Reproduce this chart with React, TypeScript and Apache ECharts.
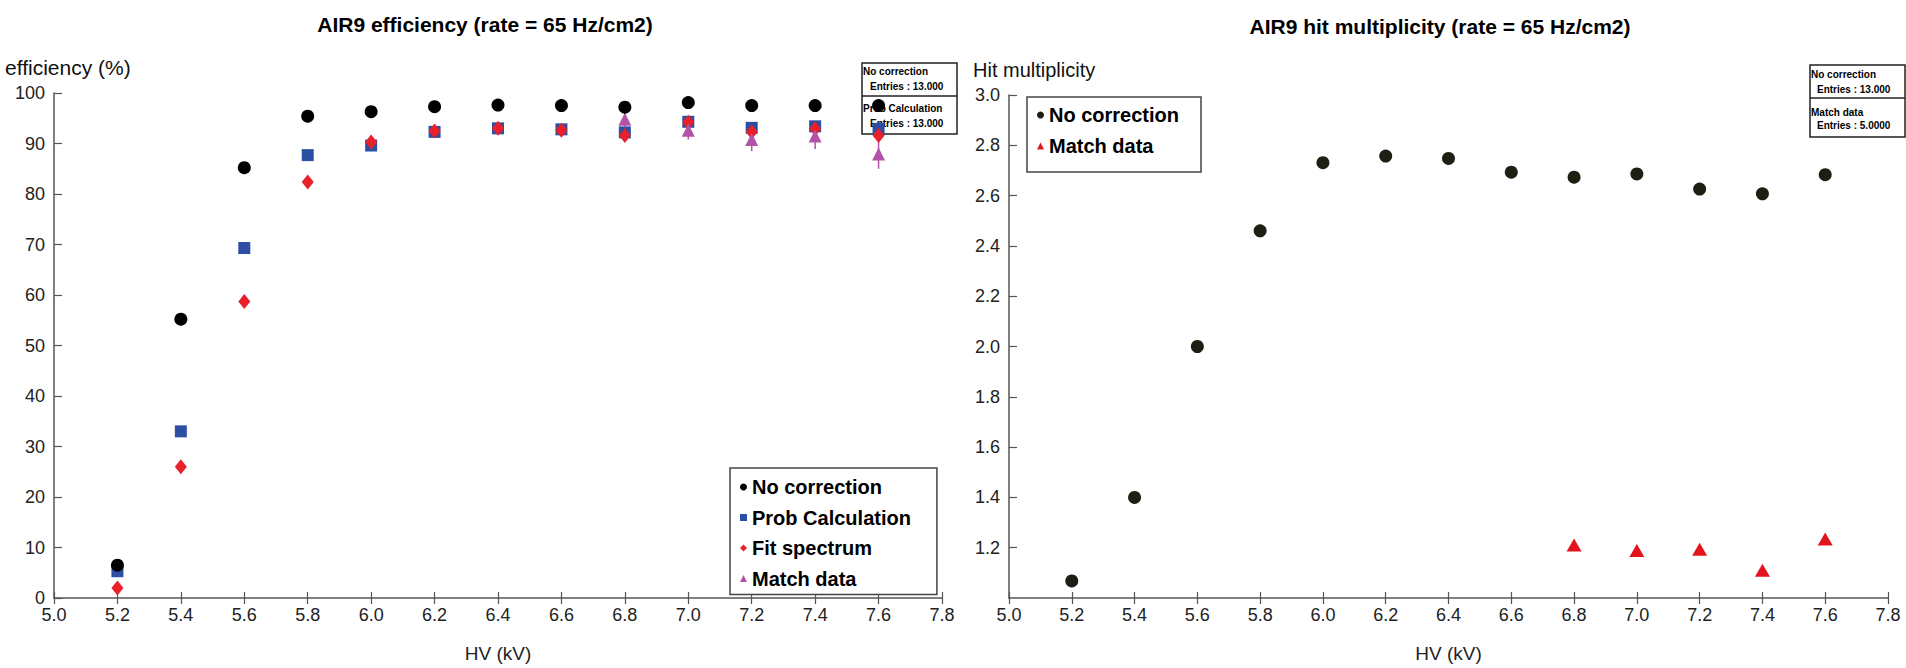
import React, { useEffect, useRef } from "react";
import * as echarts from "echarts";

const FONT = "'Liberation Sans', Arial, Helvetica, sans-serif";

// ---- Left chart data (efficiency %) ----
const hv = [5.2, 5.4, 5.6, 5.8, 6.0, 6.2, 6.4, 6.6, 6.8, 7.0, 7.2, 7.4, 7.6];
const effNoCorrection = [6.5, 55.2, 85.2, 95.4, 96.3, 97.3, 97.6, 97.5, 97.2, 98.1, 97.5, 97.5, 97.5];
const effProbCalc = [5.3, 33.0, 69.3, 87.7, 89.6, 92.3, 93.0, 92.8, 92.2, 94.3, 93.1, 93.4, 92.9];
const effFitSpectrum = [2.0, 26.0, 58.7, 82.4, 90.3, 92.5, 93.0, 92.6, 91.6, 94.2, 92.3, 92.9, 91.6];
const matchHv = [6.8, 7.0, 7.2, 7.4, 7.6];
const effMatchData = [94.8, 92.6, 90.8, 91.5, 87.9];
const effMatchErr = [1.5, 1.8, 2.3, 2.6, 2.9];

// ---- Right chart data (hit multiplicity) ----
const multNoCorrection = [1.068, 1.4, 2.0, 2.46, 2.731, 2.757, 2.748, 2.693, 2.673, 2.686, 2.626, 2.607, 2.683];
const multMatchData = [1.211, 1.189, 1.194, 1.11, 1.235];

// ---- Axis ranges / labels ----
const hvMin = 5.0;
const hvMax = 7.8;
const hvStep = 0.2;
const effMin = 0;
const effMax = 100;
const effStep = 10;
const multMin = 1.0;
const multMax = 3.0;
const multStep = 0.2;

const leftTitle = "AIR9 efficiency (rate = 65 Hz/cm2)";
const rightTitle = "AIR9 hit multiplicity (rate = 65 Hz/cm2)";
const leftYName = "efficiency (%)";
const rightYName = "Hit multiplicity";
const xName = "HV (kV)";

const C_BLACK = "#000000";
const C_BLUE = "#2c4fa3";
const C_RED = "#e8202a";
const C_PURPLE = "#b452a8";
const C_DARK = "#1d1f13";
const C_RED2 = "#e3141e";
const AXIS_COLOR = "#555";

const RIGHT_OFFSET = 966;

function pairs(xs: number[], ys: number[]) {
  return xs.map((x, i) => [x, ys[i]]);
}

function xAxes() {
  return [
    {
      type: "value",
      min: hvMin,
      max: hvMax,
      interval: hvStep,
      name: xName,
      nameLocation: "middle",
      nameGap: 46,
      nameTextStyle: { fontSize: 19, color: "#222", fontFamily: FONT },
      axisLine: { show: true, onZero: false, lineStyle: { color: AXIS_COLOR, width: 1.5 } },
      axisTick: { show: true, inside: false, length: 6, lineStyle: { color: AXIS_COLOR, width: 1.2 } },
      axisLabel: {
        fontSize: 18,
        color: "#222",
        margin: 8,
        fontFamily: FONT,
        formatter: (v: number) => v.toFixed(1),
      },
      splitLine: { show: false },
    },
    {
      type: "value",
      min: hvMin,
      max: hvMax,
      interval: hvStep,
      position: "bottom",
      axisLine: { show: false },
      axisTick: { show: true, inside: true, length: 6, lineStyle: { color: AXIS_COLOR, width: 1.2 } },
      axisLabel: { show: false },
      splitLine: { show: false },
    },
  ];
}

function statsBox(
  x: number,
  y: number,
  w: number,
  h: number,
  divY: number,
  lines: { t: string; dx: number; y: number }[]
) {
  const els: any[] = [
    {
      type: "rect",
      shape: { x, y, width: w, height: h },
      style: { fill: "#fff", stroke: "#222", lineWidth: 1.5 },
    },
    {
      type: "line",
      shape: { x1: x, y1: divY, x2: x + w, y2: divY },
      style: { stroke: "#222", lineWidth: 1.5 },
    },
  ];
  lines.forEach((l) => {
    els.push({
      type: "text",
      style: {
        x: x + l.dx,
        y: l.y,
        text: l.t,
        fontSize: 10,
        fontWeight: "bold",
        fontFamily: FONT,
        fill: "#000",
        textVerticalAlign: "middle",
        textAlign: "left",
      },
    });
  });
  return els;
}

function leftOption(): any {
  return {
    animation: false,
    backgroundColor: "#fff",
    textStyle: { fontFamily: FONT },
    grid: { left: 54, top: 93, width: 888, height: 511 },
    xAxis: xAxes(),
    yAxis: {
      type: "value",
      min: effMin,
      max: effMax,
      interval: effStep,
      axisLine: { show: true, lineStyle: { color: AXIS_COLOR, width: 1.5 } },
      axisTick: { show: true, inside: true, length: 8, lineStyle: { color: AXIS_COLOR, width: 1.2 } },
      axisLabel: { fontSize: 18, color: "#222", margin: 9, fontFamily: FONT },
      splitLine: { show: false },
    },
    legend: {
      orient: "vertical",
      left: 730,
      top: 468,
      padding: [8, 26, 5, 10],
      itemGap: 8.5,
      itemWidth: 7,
      itemHeight: 7,
      selectedMode: false,
      borderColor: "#444",
      borderWidth: 1.5,
      backgroundColor: "#fff",
      textStyle: { fontSize: 20, fontWeight: "bold", color: "#000", fontFamily: FONT, lineHeight: 22 },
      data: ["No correction", "Prob Calculation", "Fit spectrum", "Match data"],
    },
    graphic: {
      elements: [
        {
          type: "text",
          style: {
            x: 485,
            y: 24,
            text: leftTitle,
            fontSize: 21,
            fontWeight: "bold",
            fontFamily: FONT,
            fill: "#000",
            textAlign: "center",
            textVerticalAlign: "middle",
          },
        },
        {
          type: "text",
          style: {
            x: 5,
            y: 67,
            text: leftYName,
            fontSize: 21,
            fontFamily: FONT,
            fill: "#111",
            textAlign: "left",
            textVerticalAlign: "middle",
          },
        },
        {
          type: "group",
          z: 5,
          children: statsBox(862, 63, 95, 71, 96, [
            { t: "No correction", dx: 1, y: 71 },
            { t: "Entries : 13.000", dx: 8, y: 86 },
            { t: "Prob Calculation", dx: 1, y: 108 },
            { t: "Entries : 13.000", dx: 8, y: 123 },
          ]),
        },
      ],
    },
    series: [
      {
        name: "No correction",
        type: "scatter",
        symbol: "circle",
        symbolSize: 13,
        itemStyle: { color: C_BLACK, opacity: 1 },
        data: pairs(hv, effNoCorrection),
        z: 10,
      },
      {
        name: "Prob Calculation",
        type: "scatter",
        symbol: "rect",
        symbolSize: 12,
        itemStyle: { color: C_BLUE, opacity: 1 },
        data: pairs(hv, effProbCalc),
        z: 2,
      },
      {
        name: "Fit spectrum",
        type: "scatter",
        symbol: "diamond",
        symbolSize: [12, 15],
        itemStyle: { color: C_RED, opacity: 1 },
        data: pairs(hv, effFitSpectrum),
        z: 3,
      },
      {
        name: "Match data errors",
        type: "custom",
        silent: true,
        z: 3,
        encode: { x: 0, y: 1 },
        data: matchHv.map((x, i) => [x, effMatchData[i], effMatchErr[i]]),
        renderItem: (params: any, api: any) => {
          const x = api.value(0);
          const y = api.value(1);
          const e = api.value(2);
          const p1 = api.coord([x, y - e]);
          const p2 = api.coord([x, y + e]);
          return {
            type: "line",
            shape: { x1: p1[0], y1: p1[1], x2: p2[0], y2: p2[1] },
            style: { stroke: C_PURPLE, lineWidth: 1.5 },
          };
        },
      },
      {
        name: "Match data",
        type: "scatter",
        symbol: "triangle",
        symbolSize: [13, 13],
        itemStyle: { color: C_PURPLE, opacity: 1 },
        data: pairs(matchHv, effMatchData),
        z: 4,
      },
    ],
  };
}

function rightOption(): any {
  return {
    animation: false,
    backgroundColor: "#fff",
    textStyle: { fontFamily: FONT },
    grid: { left: 1009 - RIGHT_OFFSET, top: 95, width: 879, height: 506 },
    xAxis: xAxes(),
    yAxis: {
      type: "value",
      min: multMin,
      max: multMax,
      interval: multStep,
      axisLine: { show: true, lineStyle: { color: AXIS_COLOR, width: 1.5 } },
      axisTick: { show: true, inside: true, length: 8, lineStyle: { color: AXIS_COLOR, width: 1.2 } },
      axisLabel: {
        fontSize: 18,
        color: "#222",
        margin: 9,
        fontFamily: FONT,
        showMinLabel: false,
        formatter: (v: number) => v.toFixed(1),
      },
      splitLine: { show: false },
    },
    legend: {
      orient: "vertical",
      left: 1027 - RIGHT_OFFSET,
      top: 97,
      padding: [7, 22, 15, 10],
      itemGap: 9,
      itemWidth: 7,
      itemHeight: 7,
      selectedMode: false,
      borderColor: "#444",
      borderWidth: 1.5,
      backgroundColor: "#fff",
      textStyle: { fontSize: 20, fontWeight: "bold", color: "#000", fontFamily: FONT, lineHeight: 22 },
      data: ["No correction", "Match data"],
    },
    graphic: {
      elements: [
        {
          type: "text",
          style: {
            x: 1440 - RIGHT_OFFSET,
            y: 26,
            text: rightTitle,
            fontSize: 21,
            fontWeight: "bold",
            fontFamily: FONT,
            fill: "#000",
            textAlign: "center",
            textVerticalAlign: "middle",
          },
        },
        {
          type: "text",
          style: {
            x: 973 - RIGHT_OFFSET,
            y: 70,
            text: rightYName,
            fontSize: 20,
            fontFamily: FONT,
            fill: "#111",
            textAlign: "left",
            textVerticalAlign: "middle",
          },
        },
        {
          type: "group",
          z: 5,
          children: statsBox(1810 - RIGHT_OFFSET, 65, 95, 72, 98, [
            { t: "No correction", dx: 1, y: 74 },
            { t: "Entries : 13.000", dx: 7, y: 89 },
            { t: "Match data", dx: 1, y: 112 },
            { t: "Entries : 5.0000", dx: 7, y: 125 },
          ]),
        },
      ],
    },
    series: [
      {
        name: "No correction",
        type: "scatter",
        symbol: "circle",
        symbolSize: 13,
        itemStyle: { color: C_DARK, opacity: 1 },
        data: pairs(hv, multNoCorrection),
        z: 3,
      },
      {
        name: "Match data",
        type: "scatter",
        symbol: "triangle",
        symbolSize: [15, 13],
        itemStyle: { color: C_RED2, opacity: 1 },
        data: pairs(matchHv, multMatchData),
        z: 3,
      },
    ],
  };
}

function Chart({ width, height, option }: { width: number; height: number; option: () => any }) {
  const ref = useRef<HTMLDivElement>(null);
  useEffect(() => {
    if (!ref.current) return;
    const chart = echarts.init(ref.current, undefined, { renderer: "svg" });
    chart.setOption(option());
    return () => chart.dispose();
  }, []);
  return <div ref={ref} style={{ width, height, flex: "none" }} />;
}

export default function App() {
  return (
    <div
      style={{
        position: "fixed",
        left: 0,
        top: 0,
        width: 1906,
        height: 668,
        display: "flex",
        background: "#fff",
      }}
    >
      <Chart width={RIGHT_OFFSET} height={668} option={leftOption} />
      <Chart width={1906 - RIGHT_OFFSET} height={668} option={rightOption} />
    </div>
  );
}
